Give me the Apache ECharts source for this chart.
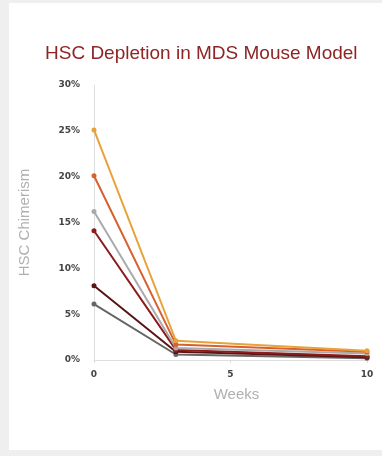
<!DOCTYPE html>
<html>
<head>
<meta charset="utf-8">
<script src="https://cdn.jsdelivr.net/npm/echarts@6/dist/echarts.min.js"></script>
<style>
  html, body { margin: 0; padding: 0; background: #efefef; width: 382px; height: 456px; overflow: hidden; }
  #card { position: absolute; left: 9px; top: 3px; width: 373px; height: 447px; background: #ffffff; }
</style>
</head>
<body>
<div id="card"></div>
<script>
// Weeks after transplant at which chimerism was measured
const weeks = [0, 3, 10];

// HSC chimerism (%) per mouse
const mouseA = [25.1, 2.1, 1.0];
const mouseB = [20.1, 1.7, 0.9];
const mouseC = [16.2, 1.3, 0.7];
const mouseD = [14.1, 1.1, 0.4];
const mouseE = [8.1, 0.9, 0.3];
const mouseF = [6.1, 0.6, 0.2];

const seriesValues = [mouseA, mouseB, mouseC, mouseD, mouseE, mouseF];
const lineColors = ['#e8a23a', '#d8602e', '#aaaaaa', '#8c1c1c', '#5a1414', '#666666'];

const yTicks = [0, 5, 10, 15, 20, 25, 30];

const chart = echarts.init(document.getElementById('card'), null, { renderer: 'canvas' });

chart.setOption({
  animation: false,
  title: {
    text: 'HSC Depletion in MDS Mouse Model',
    left: 31,
    top: 36,
    textStyle: { color: '#8e2424', fontSize: 19, fontWeight: 'normal', fontFamily: 'Liberation Sans, Arial, sans-serif' }
  },
  grid: { left: 84, right: 15, top: 82, bottom: 90 },
  xAxis: {
    type: 'value',
    min: 0, max: 10, interval: 5,
    name: 'Weeks',
    nameLocation: 'middle',
    nameGap: 27,
    nameTextStyle: { color: '#b0b0b0', fontSize: 15, fontFamily: 'Liberation Sans, Arial, sans-serif', padding: [0, 0, 0, 12] },
    axisLine: { show: true, lineStyle: { color: '#dddddd' } },
    axisTick: { show: true, length: 3, lineStyle: { color: '#dddddd' } },
    axisLabel: { color: '#444444', fontSize: 9, fontWeight: 'bold', margin: 10, fontFamily: 'DejaVu Sans, sans-serif' },
    splitLine: { show: false }
  },
  yAxis: {
    type: 'value',
    min: yTicks[0], max: yTicks[yTicks.length - 1], interval: 5,
    name: 'HSC Chimerism',
    nameLocation: 'middle',
    nameGap: 62,
    nameTextStyle: { color: '#b0b0b0', fontSize: 15, fontFamily: 'Liberation Sans, Arial, sans-serif' },
    axisLine: { show: true, lineStyle: { color: '#dddddd' } },
    axisTick: { show: false },
    axisLabel: { color: '#444444', fontSize: 9, fontWeight: 'bold', margin: 14, formatter: v => v + '%', fontFamily: 'DejaVu Sans, sans-serif' },
    splitLine: { show: false }
  },
  series: seriesValues.map((vals, i) => ({
    type: 'line',
    data: weeks.map((w, j) => [w, vals[j]]),
    symbol: 'circle',
    symbolSize: 5,
    showSymbol: true,
    lineStyle: { width: 2, color: lineColors[i] },
    itemStyle: { color: lineColors[i] },
    z: 10 - i
  }))
});
</script>
</body>
</html>
